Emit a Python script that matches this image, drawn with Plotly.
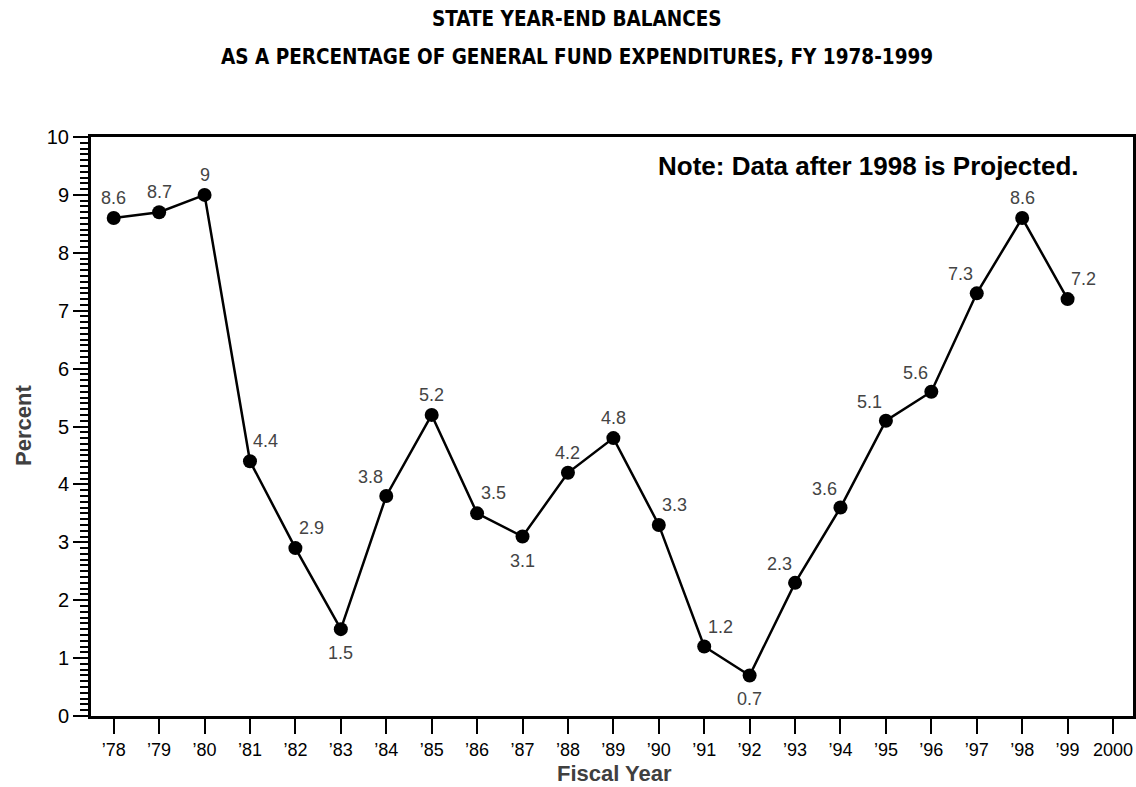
import plotly.graph_objects as go

# ---- data ----
years = list(range(1978, 2000))
balances = [8.6, 8.7, 9.0, 4.4, 2.9, 1.5, 3.8, 5.2, 3.5, 3.1, 4.2, 4.8, 3.3, 1.2, 0.7, 2.3, 3.6, 5.1, 5.6, 7.3, 8.6, 7.2]
value_text = ["8.6", "8.7", "9", "4.4", "2.9", "1.5", "3.8", "5.2", "3.5", "3.1", "4.2", "4.8", "3.3", "1.2", "0.7", "2.3", "3.6", "5.1", "5.6", "7.3", "8.6", "7.2"]
tick_years = list(range(1978, 2001))
tick_labels = ["\u201978", "\u201979", "\u201980", "\u201981", "\u201982", "\u201983", "\u201984", "\u201985",
               "\u201986", "\u201987", "\u201988", "\u201989", "\u201990", "\u201991", "\u201992", "\u201993",
               "\u201994", "\u201995", "\u201996", "\u201997", "\u201998", "\u201999", "2000"]
title_line1 = "STATE YEAR-END BALANCES"
title_line2 = "AS A PERCENTAGE OF GENERAL FUND EXPENDITURES, FY 1978-1999"
note_text = "Note: Data after 1998 is Projected."
x_title = "Fiscal Year"
y_title = "Percent"

# label placement codes (style)
label_place = ["N", "N", "N", "NE", "NE", "S", "NW", "N", "NE", "S", "N", "N", "NE", "NE", "S",
               "NW", "NW", "NW", "NW", "NW", "N", "NE"]
place_offsets = {"N": (0, 20), "S": (0, -24), "NE": (16, 20), "NW": (-16, 19)}

# plot-area geometry in pixels (style)
W, H = 1136, 787
L, R, T, B = 91, 3, 137, 71
PW, PH = W - L - R, H - T - B


def px_x(p):
    return (p - L) / PW


def px_y(p):
    return (H - B - p) / PH


fig = go.Figure()
fig.add_trace(go.Scatter(
    x=years, y=balances, mode="lines+markers",
    line=dict(color="black", width=2.5),
    marker=dict(color="black", size=14),
    showlegend=False, hoverinfo="x+y",
))

label_font = dict(family="Liberation Sans, Arial, sans-serif", size=18, color="#444444")
annotations = []
for x, y, t, p in zip(years, balances, value_text, label_place):
    dx, dy = place_offsets[p]
    annotations.append(dict(
        x=x, y=y, xref="x", yref="y", text=t, showarrow=False,
        xshift=dx, yshift=dy, xanchor="center", yanchor="middle", font=label_font,
    ))

title_font = dict(family="Liberation Sans Narrow, DejaVu Sans Condensed, Arial Narrow, sans-serif",
                  size=20.5, color="black")
annotations.append(dict(text="<b>%s</b>" % title_line1, xref="paper", yref="paper",
                        x=px_x(577), y=px_y(19), showarrow=False,
                        xanchor="center", yanchor="middle", font=title_font))
annotations.append(dict(text="<b>%s</b>" % title_line2, xref="paper", yref="paper",
                        x=px_x(577), y=px_y(57.5), showarrow=False,
                        xanchor="center", yanchor="middle", font=title_font))
annotations.append(dict(text="<b>%s</b>" % note_text, xref="paper", yref="paper",
                        x=px_x(1081), y=px_y(166), showarrow=False,
                        xanchor="right", yanchor="middle",
                        font=dict(family="Liberation Sans, Arial, sans-serif", size=26, color="black")))
axis_title_font = dict(family="Liberation Sans, Arial, sans-serif", size=22, color="#404040")
annotations.append(dict(text="<b>%s</b>" % x_title, xref="paper", yref="paper",
                        x=px_x(614), y=px_y(773), showarrow=False,
                        xanchor="center", yanchor="middle", font=axis_title_font))
annotations.append(dict(text="<b>%s</b>" % y_title, xref="paper", yref="paper",
                        x=px_x(23), y=px_y(426), showarrow=False, textangle=-90,
                        xanchor="center", yanchor="middle", font=axis_title_font))

fig.update_layout(
    width=W, height=H,
    margin=dict(l=L, r=R, t=T, b=B, autoexpand=False),
    paper_bgcolor="white", plot_bgcolor="white",
    annotations=annotations,
    font=dict(family="Liberation Sans, Arial, sans-serif", color="black"),
)

fig.update_xaxes(
    range=[1977.5, 2000.44],
    tickmode="array", tickvals=tick_years, ticktext=tick_labels,
    ticks="outside", ticklen=15, tickwidth=2, tickcolor="black",
    tickfont=dict(size=18, color="black"),
    showline=True, linewidth=3, linecolor="black", mirror=True,
    showgrid=False, zeroline=False, automargin=False,
)
fig.update_yaxes(
    range=[0, 10], tickmode="linear", tick0=0, dtick=1,
    ticks="outside", ticklen=15, tickwidth=2, tickcolor="black",
    tickfont=dict(size=20, color="black"),
    minor=dict(ticks="outside", ticklen=8, tickwidth=1.5, tickcolor="black", dtick=0.1, showgrid=False),
    showline=True, linewidth=3, linecolor="black", mirror=True,
    showgrid=False, zeroline=False, automargin=False,
)

fig.write_html(
    "out.html",
    config={"displayModeBar": False},
    post_script="document.body.style.margin='0';document.body.style.overflow='hidden';",
)
